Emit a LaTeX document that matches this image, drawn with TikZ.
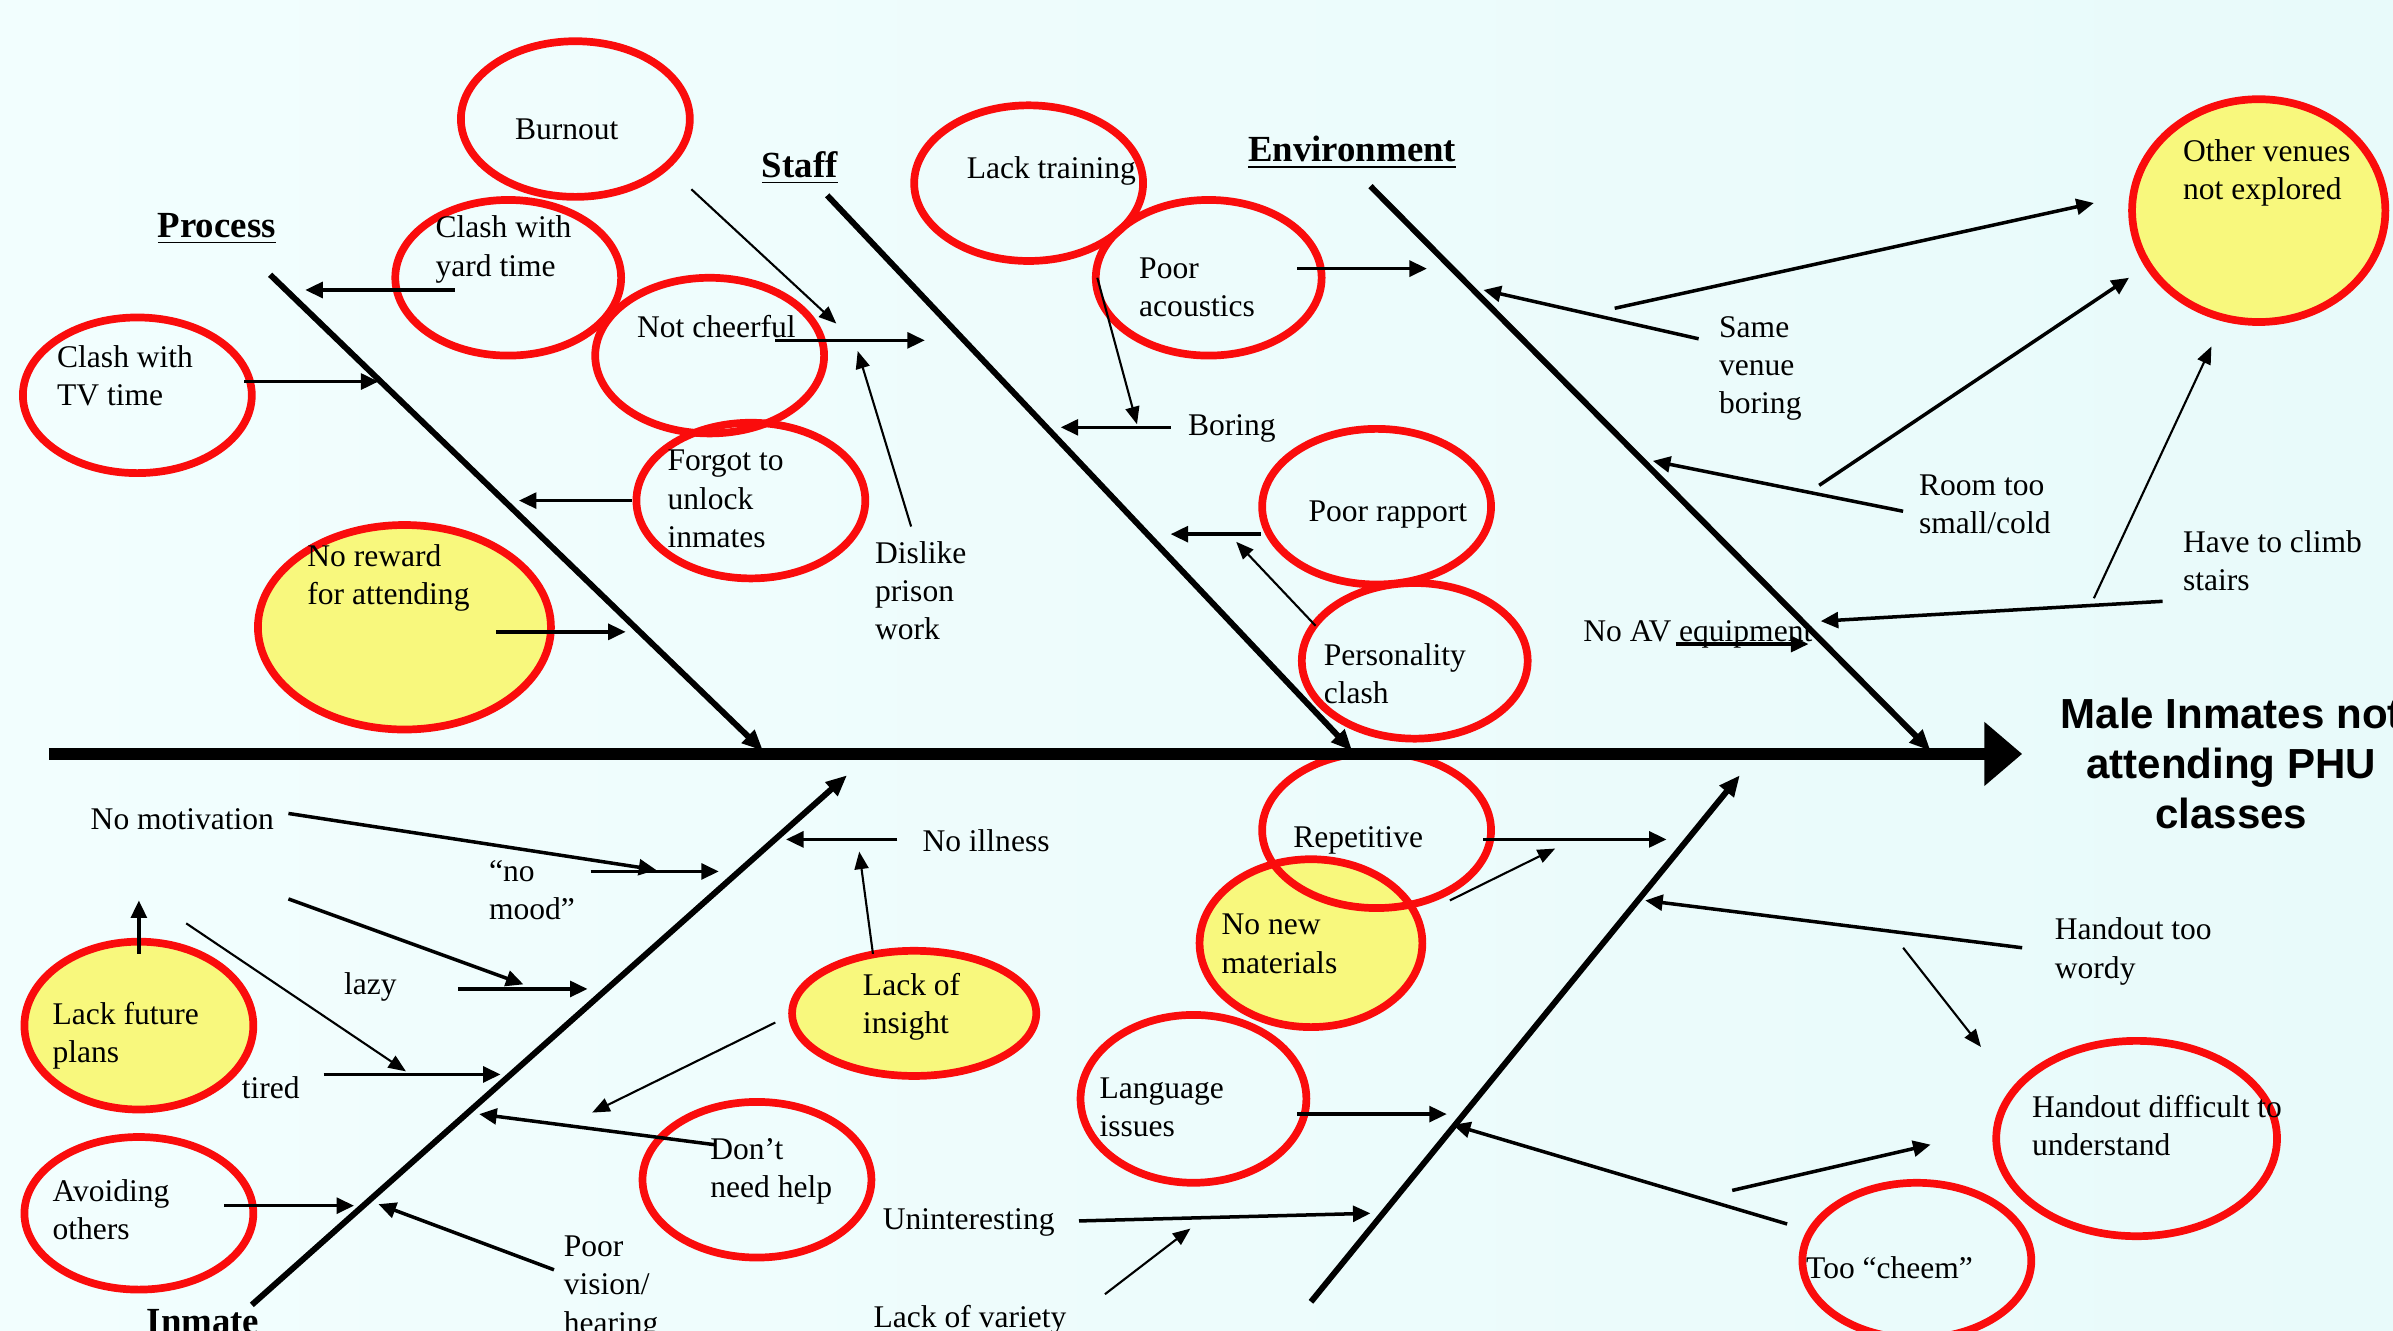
\documentclass[tikz,border=0pt]{standalone}
\usepackage{fontspec}
\setmainfont{Liberation Serif}
\newfontfamily\headfont{Liberation Sans}
\usetikzlibrary{arrows.meta}

\definecolor{paper}{RGB}{242,254,254}
\definecolor{paperdark}{RGB}{232,250,250}
\definecolor{ringred}{RGB}{250,12,12}
\definecolor{hilite}{RGB}{248,248,125}

\begin{document}
\begin{tikzpicture}[x=0.0153cm, y=-0.0153cm,
    txt/.style={anchor=west, align=left, inner sep=0pt, yshift=-0.03cm, font=\fontsize{9}{10.9}\selectfont},
    cat/.style={inner sep=0pt, yshift=-0.03cm, font=\fontsize{10.5}{12}\selectfont\bfseries},
    ring/.style={draw=ringred, line width=2.2pt},
    spine/.style={line width=3.5pt, -{Triangle[length=0.38cm,width=0.62cm]}},
    bone/.style={line width=1.7pt, -{Triangle[length=6pt,width=5pt]}},
    arr/.style={line width=1pt, -{Triangle[length=5pt,width=4.5pt]}},
    thin/.style={line width=0.6pt, -{Triangle[length=5pt,width=4pt]}}]

  \useasboundingbox (0,0) rectangle (1568,872);
  \shade[left color=paper, right color=paperdark] (0,0) rectangle (1568,872);

  % highlighted causes
  \foreach \cx/\cy/\rx/\ry in {265/411/96/67, 1480/138/83/73, 859/618/73/55,
                               599/664/80/41, 91/672/75/55}
    \fill[hilite] (\cx,\cy) ellipse [x radius=\rx, y radius=\ry];

  % rings
  \foreach \cx/\cy/\rx/\ry in {377/78/75/51, 333/182/74/51, 465/233/75/51,
                               90/259/75/51, 492/328/75/51, 265/411/96/67,
                               674/120/75/51, 792/182/74/51, 1480/138/83/73,
                               902/332/75/51, 927/433/74/51, 902/544/75/51,
                               859/618/73/55, 782/720/74/55, 599/664/80/41,
                               496/773/75/51, 91/672/75/55, 91/795/75/50,
                               1400/746/92/64, 1256/826/75/51}
    \draw[ring] (\cx,\cy) ellipse [x radius=\rx, y radius=\ry];

  % spine and bones
  \coordinate (tail) at (32,494);
  \coordinate (head) at (1325,494);
  \coordinate (procA) at (177,180);  \coordinate (procB) at (500,492);
  \coordinate (staffA) at (542,128); \coordinate (staffB) at (886,492);
  \coordinate (envA) at (898,122);   \coordinate (envB) at (1265,492);
  \coordinate (inmA) at (165,855);   \coordinate (inmB) at (555,508);
  \coordinate (matA) at (859,853);   \coordinate (matB) at (1140,508);

  \draw[spine] (tail) -- (head);
  \draw[bone] (procA) -- (procB);
  \draw[bone] (staffA) -- (staffB);
  \draw[bone] (envA) -- (envB);
  \draw[bone] (inmA) -- (inmB);
  \draw[bone] (matA) -- (matB);

  \node[font=\headfont\fontsize{12}{14.3}\selectfont\bfseries, align=center, inner sep=0pt]
    (effect) at (1462,500) {Male Inmates not\\attending PHU\\classes};

  \node[cat] (process) at (142,148) {\underline{Process}};
  \node[cat] (staff) at (524,108) {\underline{Staff}};
  \node[cat] (environment) at (886,98) {\underline{Environment}};
  \node[cat] (inmate) at (133,866) {\underline{Inmate}};

  % process
  \node[txt] (burnout) at (337,83) {Burnout};
  \node[txt] (yard) at (285,161.5) {Clash with\\yard time};
  \node[txt] (cheer) at (417,212) {Not cheerful};
  \node[txt] (tv) at (37,244.5) {Clash with\\TV time};
  \node[txt] (unlock) at (437,325) {Forgot to\\unlock\\inmates};
  \node[txt] (reward) at (201,376.5) {No reward\\for attending};
  \node[txt] (dislike) at (573,385) {Dislike\\prison\\work};

  \draw[arr] (298,190) -- (200,190);
  \draw[arr] (160,250) -- (248,250);
  \draw[arr] (414,328) -- (340,328);
  \draw[arr] (325,414) -- (410,414);
  \draw[arr] (508,223) -- (606,223);
  \draw[thin] (453,124) -- (548,212);
  \draw[thin] (597,345) -- (562,230);

  % staff
  \node[txt] (training) at (633,110) {Lack training};
  \node[txt] (acoustics) at (746,186.5) {Poor\\acoustics};
  \node[txt] (boring) at (778,279) {Boring};
  \node[txt] (rapport) at (857,335) {Poor rapport};
  \node[txt] (clash) at (867,439.5) {Personality\\clash};

  \draw[arr] (850,176) -- (935,176);
  \draw[thin] (719,182) -- (745,278);
  \draw[arr] (767,280) -- (695,280);
  \draw[arr] (826,350) -- (767,350);
  \draw[thin] (862,410) -- (810,355);

  % environment
  \node[txt] (venues) at (1430,111.5) {Other venues\\not explored};
  \node[txt] (samevenue) at (1126,239.5) {Same\\venue\\boring};
  \node[txt] (room) at (1257,328.5) {Room too\\small/cold};
  \node[txt] (stairs) at (1430,365.5) {Have to climb\\stairs};
  \node[txt] (noav) at (1037,414) {No AV equipment};

  \draw[arr] (1058,202) -- (1372,133);
  \draw[arr] (1113,222) -- (972,190);
  \draw[arr] (1192,318) -- (1395,182);
  \draw[arr] (1247,335) -- (1083,302);
  \draw[thin] (1372,392) -- (1449,227);
  \draw[arr] (1417,394) -- (1193,407);
  \draw[arr] (1098,422) -- (1185,422);

  % inmate
  \node[txt] (motivation) at (59,535) {No motivation};
  \node[txt] (mood) at (320,581.5) {“no\\mood”};
  \node[txt] (lazy) at (225,645) {lazy};
  \node[txt] (tired) at (158,711) {tired};
  \node[txt] (future) at (34,676.5) {Lack future\\plans};
  \node[txt] (avoid) at (34,790.5) {Avoiding\\others};
  \node[txt] (vision) at (369,842) {Poor\\vision/\\hearing};
  \node[txt] (noneed) at (465,765.5) {Don’t\\need help};
  \node[txt] (insight) at (565,657.5) {Lack of\\insight};
  \node[txt] (illness) at (604,549) {No illness};

  \draw[arr] (189,533) -- (430,570);
  \draw[arr] (387,571) -- (471,571);
  \draw[arr] (189,589) -- (343,645);
  \draw[arr] (300,648) -- (385,648);
  \draw[thin] (122,605) -- (266,702);
  \draw[arr] (212,704) -- (328,704);
  \draw[arr] (91,625) -- (91,590);
  \draw[arr] (147,790) -- (232,790);
  \draw[arr] (363,832) -- (248,789);
  \draw[arr] (468,750) -- (314,730);
  \draw[thin] (508,670) -- (388,729);
  \draw[thin] (572,625) -- (563,558);
  \draw[arr] (588,550) -- (515,550);

  % materials
  \node[txt] (uninteresting) at (578,799) {Uninteresting};
  \node[txt] (variety) at (572,863) {Lack of variety};
  \node[txt] (repetitive) at (847,549) {Repetitive};
  \node[txt] (newmat) at (800,616.5) {No new\\materials};
  \node[txt] (language) at (720,723.5) {Language\\issues};
  \node[txt] (wordy) at (1346,621.5) {Handout too\\wordy};
  \node[txt] (difficult) at (1331,735.5) {Handout difficult to\\understand};
  \node[txt] (cheem) at (1183,829) {Too “cheem”};

  \draw[arr] (972,550) -- (1092,550);
  \draw[thin] (950,590) -- (1019,556);
  \draw[arr] (850,730) -- (948,730);
  \draw[arr] (1325,621) -- (1078,590);
  \draw[thin] (1247,621) -- (1298,686);
  \draw[arr] (1171,802) -- (952,737);
  \draw[arr] (1135,780) -- (1265,750);
  \draw[arr] (707,800) -- (898,795);
  \draw[thin] (724,848) -- (780,805);
\end{tikzpicture}
\end{document}
